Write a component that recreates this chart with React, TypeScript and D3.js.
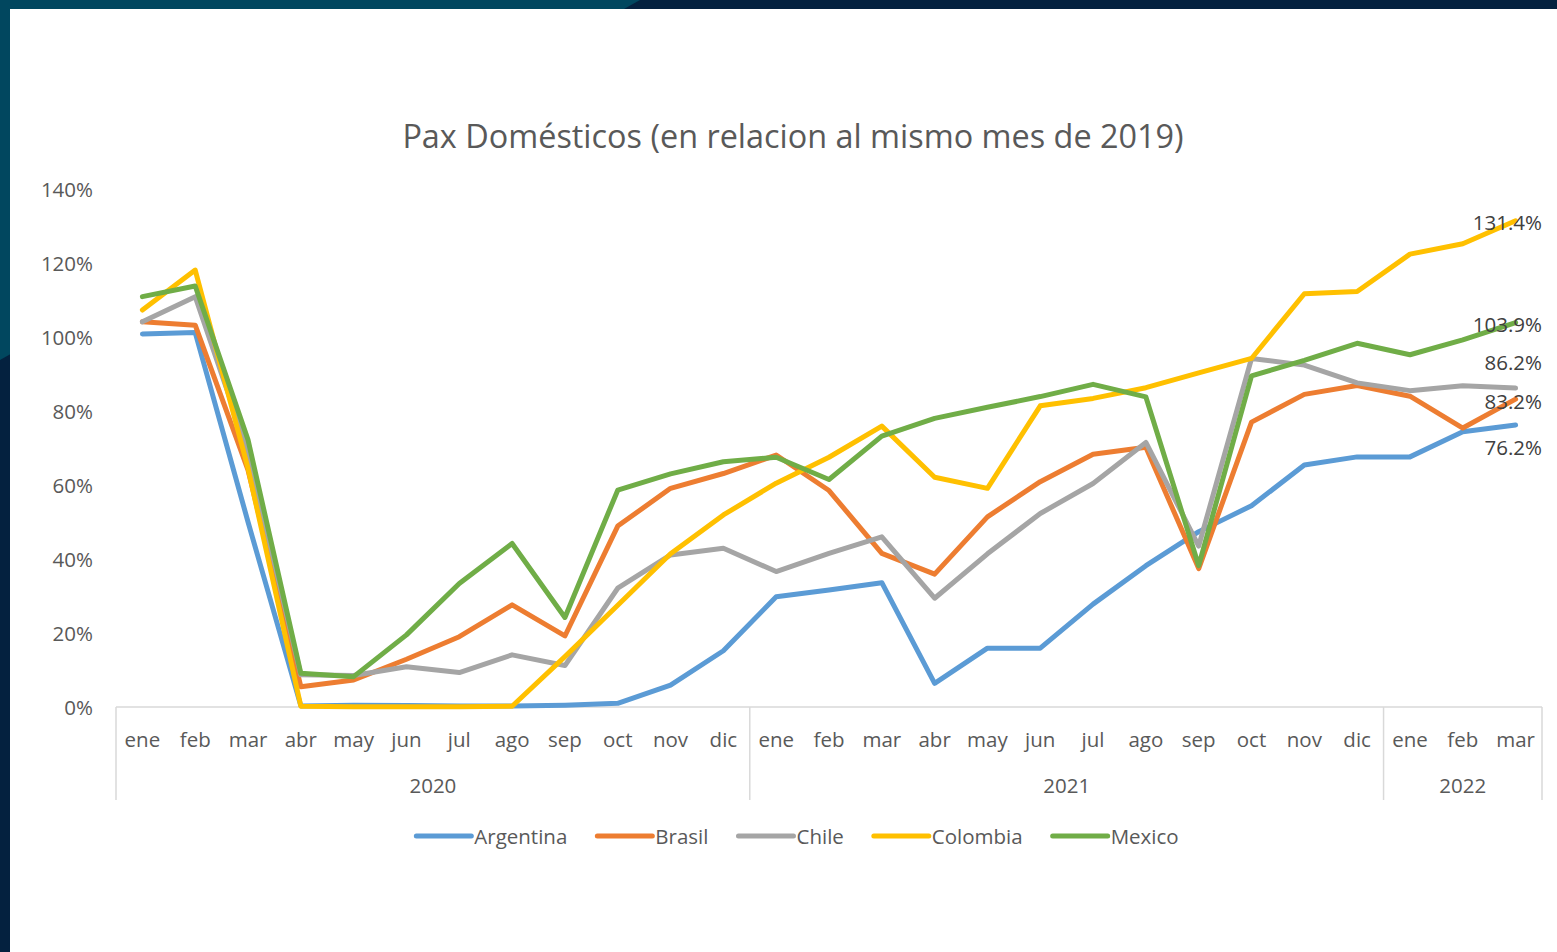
import React, { useEffect, useRef } from "react";
import * as d3 from "d3";

// categories
const monthLabels = [
  "ene", "feb", "mar", "abr", "may", "jun", "jul", "ago", "sep", "oct", "nov", "dic",
  "ene", "feb", "mar", "abr", "may", "jun", "jul", "ago", "sep", "oct", "nov", "dic",
  "ene", "feb", "mar",
];
const yearLabels = ["2020", "2021", "2022"];
const monthsPerYear = [12, 12, 3];

// series (% vs same month of 2019)
const seriesNames = ["Argentina", "Brasil", "Chile", "Colombia", "Mexico"];
const argentina = [100.8, 101.2, 50, 0.3, 0.5, 0.4, 0.3, 0.3, 0.5, 1, 5.9, 15.2, 29.8, 31.6, 33.6, 6.4, 15.9, 15.9, 27.8, 38.2, 47.4, 54.4, 65.4, 67.6, 67.6, 74.4, 76.2];
const brasil = [104.1, 103.2, 64, 5.5, 7.3, 12.9, 19, 27.6, 19.2, 48.9, 59.1, 63.1, 68.1, 58.5, 41.5, 35.9, 51.4, 60.9, 68.3, 70.2, 37.4, 77, 84.5, 86.9, 84, 75.4, 83.2];
const chile = [104.1, 110.9, 69, 8.7, 8.5, 10.9, 9.3, 14.1, 11.2, 32.1, 41.1, 42.9, 36.6, 41.5, 46, 29.4, 41.4, 52.3, 60.4, 71.5, 43.5, 94.2, 92.4, 87.6, 85.5, 86.8, 86.2];
const colombia = [107.3, 118.1, 64.5, 0.2, 0.1, 0.1, 0.1, 0.2, 13.6, 27.5, 41.4, 51.9, 60.5, 67.5, 75.9, 62.1, 59.1, 81.4, 83.4, 86.3, 90.3, 94.2, 111.7, 112.3, 122.4, 125.2, 131.4];
const mexico = [110.9, 113.8, 72.2, 9.1, 8.2, 19.5, 33.4, 44.2, 24.2, 58.6, 63, 66.3, 67.5, 61.5, 73.2, 78, 81, 83.9, 87.2, 83.8, 38.2, 89.5, 93.7, 98.3, 95.2, 99.2, 103.9];
const seriesValues = [argentina, brasil, chile, colombia, mexico];
const seriesColors = ["#5B9BD5", "#ED7D31", "#A5A5A5", "#FFC000", "#70AD47"];

const yTicks = [0, 20, 40, 60, 80, 100, 120, 140];

const W = 1557;
const H = 952;
const FONT = "'Open Sans', sans-serif";
const LABEL_SIZE = "20.5px";

const App = () => {
  const svgRef = useRef<SVGSVGElement>(null);

  useEffect(() => {
    document.body.style.margin = "0";
    const svg = d3.select(svgRef.current);
    svg.selectAll("*").remove();
    svg.attr("width", W).attr("height", H);

    // frame background
    svg.append("rect").attr("width", W).attr("height", H).attr("fill", "#04213f");
    svg.append("polygon")
      .attr("points", "0,0 640,0 0,360")
      .attr("fill", "#01475f");
    svg.append("rect")
      .attr("x", 10).attr("y", 9)
      .attr("width", W - 10).attr("height", H - 9)
      .attr("fill", "#ffffff");

    const plotLeft = 116;
    const plotRight = 1542;
    const x = d3.scaleBand<number>()
      .domain(d3.range(monthLabels.length))
      .range([plotLeft, plotRight])
      .padding(0);
    const cx = (i: number) => (x(i) as number) + x.bandwidth() / 2;
    const y = d3.scaleLinear().domain([0, 140]).range([707, 189]);

    // title
    svg.append("text")
      .attr("x", 793).attr("y", 135)
      .attr("text-anchor", "middle")
      .attr("dominant-baseline", "central")
      .style("font-family", FONT)
      .style("font-size", "32.4px")
      .attr("fill", "#595959")
      .text("Pax Domésticos (en relacion al mismo mes de 2019)");

    // y tick labels
    svg.append("g").selectAll("text")
      .data(yTicks)
      .enter()
      .append("text")
      .attr("x", 93)
      .attr("y", d => y(d))
      .attr("text-anchor", "end")
      .attr("dominant-baseline", "central")
      .style("font-family", FONT)
      .style("font-size", LABEL_SIZE)
      .attr("fill", "#595959")
      .text(d => `${d}%`);

    // category axis
    const axisColor = "#d9d9d9";
    svg.append("line")
      .attr("x1", plotLeft).attr("x2", plotRight)
      .attr("y1", y(0)).attr("y2", y(0))
      .attr("stroke", axisColor).attr("stroke-width", 1.5);

    const bounds = [0];
    monthsPerYear.forEach(n => bounds.push(bounds[bounds.length - 1] + n));
    bounds.forEach(b => {
      const bx = b < monthLabels.length ? (x(b) as number) : plotRight;
      svg.append("line")
        .attr("x1", bx).attr("x2", bx)
        .attr("y1", y(0)).attr("y2", 800)
        .attr("stroke", axisColor).attr("stroke-width", 1.5);
    });

    svg.append("g").selectAll("text")
      .data(monthLabels)
      .enter()
      .append("text")
      .attr("x", (d, i) => cx(i))
      .attr("y", 739)
      .attr("text-anchor", "middle")
      .attr("dominant-baseline", "central")
      .style("font-family", FONT)
      .style("font-size", LABEL_SIZE)
      .attr("fill", "#595959")
      .text(d => d);

    yearLabels.forEach((yr, k) => {
      const start = x(bounds[k]) as number;
      const end = bounds[k + 1] < monthLabels.length ? (x(bounds[k + 1]) as number) : plotRight;
      svg.append("text")
        .attr("x", (start + end) / 2)
        .attr("y", 785)
        .attr("text-anchor", "middle")
        .attr("dominant-baseline", "central")
        .style("font-family", FONT)
        .style("font-size", LABEL_SIZE)
        .attr("fill", "#595959")
        .text(yr);
    });

    // lines
    const line = d3.line<number>()
      .x((d, i) => cx(i))
      .y(d => y(d));

    seriesValues.forEach((vals, s) => {
      svg.append("path")
        .attr("d", line(vals))
        .attr("fill", "none")
        .attr("stroke", seriesColors[s])
        .attr("stroke-width", 5)
        .attr("stroke-linejoin", "round")
        .attr("stroke-linecap", "round");
    });

    // end labels (offset in px from last point)
    const labelShift = [22, 2, -26, 1, 1.5];
    seriesValues.forEach((vals, s) => {
      const last = vals[vals.length - 1];
      svg.append("text")
        .attr("x", plotRight)
        .attr("y", y(last) + labelShift[s])
        .attr("text-anchor", "end")
        .attr("dominant-baseline", "central")
        .style("font-family", FONT)
        .style("font-size", LABEL_SIZE)
        .attr("fill", "#404040")
        .text(`${last.toFixed(1)}%`);
    });

    // legend
    const legend = svg.append("g");
    let lx = 0;
    seriesNames.forEach((name, s) => {
      const item = legend.append("g").attr("transform", `translate(${lx},0)`);
      item.append("line")
        .attr("x1", 0).attr("x2", 55)
        .attr("y1", 0).attr("y2", 0)
        .attr("stroke", seriesColors[s])
        .attr("stroke-width", 5)
        .attr("stroke-linecap", "round");
      const t = item.append("text")
        .attr("x", 58)
        .attr("y", 0)
        .attr("dominant-baseline", "central")
        .style("font-family", FONT)
        .style("font-size", LABEL_SIZE)
        .attr("fill", "#595959")
        .text(name);
      const tw = (t.node() as SVGTextElement).getComputedTextLength();
      lx += 58 + tw + 30;
    });
    const legendWidth = lx - 30;
    legend.attr("transform", `translate(${797.5 - legendWidth / 2},836)`);
  }, []);

  return (
    <div>
      <svg ref={svgRef}></svg>
    </div>
  );
};

export default App;
